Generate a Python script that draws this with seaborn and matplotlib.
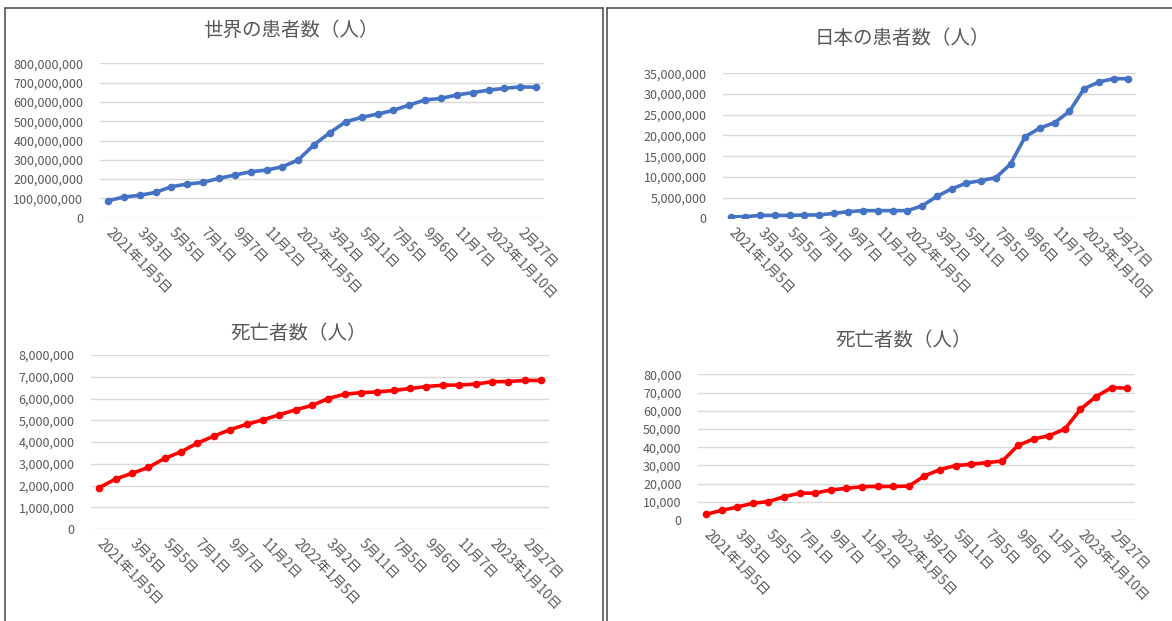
import numpy as np
import pandas as pd
import matplotlib
matplotlib.use("Agg")
import matplotlib.pyplot as plt
import seaborn as sns
from matplotlib.ticker import FuncFormatter
from matplotlib.lines import Line2D

# ---------------- data ----------------
tick_labels = ["2021年1月5日", "3月3日", "5月5日", "7月1日", "9月7日", "11月2日",
               "2022年1月5日", "3月2日", "5月11日", "7月5日", "9月6日", "11月7日",
               "2023年1月10日", "2月27日"]

world_cases = [88e6, 107e6, 116e6, 131e6, 161e6, 174e6, 183e6, 204e6, 221e6, 238e6,
               247e6, 264e6, 299e6, 378e6, 441e6, 497e6, 520e6, 537e6, 556e6, 584e6,
               610e6, 618e6, 636e6, 648e6, 661e6, 670e6, 678e6, 676e6]

japan_cases = [0.3e6, 0.4e6, 0.7e6, 0.7e6, 0.7e6, 0.8e6, 0.8e6, 1.2e6, 1.6e6, 1.85e6,
               1.85e6, 1.85e6, 1.85e6, 3.0e6, 5.3e6, 7.1e6, 8.5e6, 9.1e6, 9.8e6, 13.1e6,
               19.7e6, 21.8e6, 23.1e6, 25.8e6, 31.3e6, 32.9e6, 33.7e6, 33.7e6]

world_deaths = [1.90e6, 2.30e6, 2.56e6, 2.83e6, 3.25e6, 3.55e6, 3.95e6, 4.27e6, 4.57e6, 4.81e6,
                5.02e6, 5.25e6, 5.48e6, 5.68e6, 6.00e6, 6.20e6, 6.27e6, 6.30e6, 6.37e6, 6.46e6,
                6.55e6, 6.61e6, 6.62e6, 6.66e6, 6.77e6, 6.78e6, 6.83e6, 6.83e6]

japan_deaths = [3100, 5300, 7100, 9200, 10100, 12800, 14700, 14800, 16500, 17400,
                18300, 18400, 18400, 18600, 24200, 27700, 29900, 30600, 31500, 32400,
                41000, 44500, 46300, 50000, 60800, 67800, 72700, 72400]

titles = ["世界の患者数（人）", "日本の患者数（人）", "死亡者数（人）", "死亡者数（人）"]

# ---------------- style ----------------
sns.set_theme(style="white")
plt.rcParams["font.family"] = ["Noto Sans CJK JP", "DejaVu Sans"]

BLUE = "#4472C4"
RED = "#FF0000"
GRAY_TXT = "#595959"
GRID = "#D9D9D9"

fig = plt.figure(figsize=(11.72, 6.21), dpi=100)
fig.patch.set_facecolor("white")

W, H = 1172, 621


def box(l, t, r, b):
    return [l / W, 1 - b / H, (r - l) / W, (b - t) / H]


specs = [
    (world_cases, BLUE, 800e6, 100e6, box(100, 63.3, 544, 217.7), (291, 30)),
    (japan_cases, BLUE, 35e6, 5e6, box(723.3, 73.3, 1135.7, 218.3), (902, 38)),
    (world_deaths, RED, 8e6, 1e6, box(91.1, 355, 549.2, 529), (299, 333)),
    (japan_deaths, RED, 80e3, 10e3, box(698.2, 374.3, 1135.1, 520), (904, 341)),
]

for (vals, color, ymax, step, rect, tpos), title in zip(specs, titles):
    ax = fig.add_axes(rect)
    df = pd.DataFrame({"idx": np.arange(len(vals)), "value": vals})
    sns.lineplot(data=df, x="idx", y="value", ax=ax, color=color, linewidth=2.6,
                 marker="o", markersize=5.5, markeredgewidth=0, markerfacecolor=color)
    ax.set_xlim(-0.5, len(vals) - 0.5)
    ax.set_ylim(0, ymax)
    ax.set_yticks(np.arange(0, ymax + step / 2, step))
    ax.yaxis.set_major_formatter(FuncFormatter(lambda v, p: f"{int(round(v)):,}"))
    ax.set_xticks(np.arange(0, len(vals), 2))
    ax.set_xticklabels(tick_labels, rotation=-45, ha="left", va="center",
                       rotation_mode="anchor")
    ax.tick_params(axis="both", length=0, colors=GRAY_TXT)
    ax.tick_params(axis="y", pad=12, labelsize=9)
    ax.tick_params(axis="x", pad=9, labelsize=9.8)
    ax.grid(axis="y", color=GRID, linewidth=1)
    ax.grid(axis="x", visible=False)
    for s in ax.spines.values():
        s.set_visible(False)
    ax.set_xlabel("")
    ax.set_ylabel("")
    ax.set_facecolor("none")
    fig.text(tpos[0] / W, 1 - tpos[1] / H, title, ha="center", va="center",
             fontsize=14, color=GRAY_TXT)

# panel borders
border_col = "#555555"
lines = [
    ((5, 5), (8, 621)),
    ((5, 603), (8, 8)),
    ((603, 603), (8, 621)),
    ((607, 607), (8, 621)),
    ((607, 1172), (8, 8)),
]
for xs, ys in lines:
    fig.add_artist(Line2D([x / W for x in xs], [1 - y / H for y in ys],
                          color=border_col, linewidth=1.2))

fig.savefig("out.png", dpi=100, facecolor="white")
